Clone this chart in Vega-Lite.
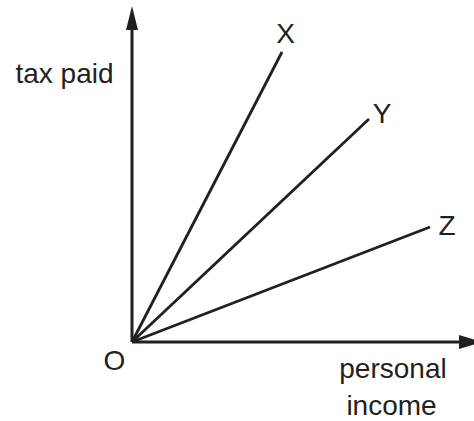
{
  "$schema": "https://vega.github.io/schema/vega-lite/v6.json",
  "width": 474,
  "height": 421,
  "autosize": {"type": "fit", "contains": "padding"},
  "padding": 0,
  "background": "white",
  "config": {"view": {"stroke": null}},
  "datasets": {
    "axes": [
      {"axis": "income", "x": 0, "y": 0, "x2": 32.7, "y2": 0},
      {"axis": "tax", "x": 0, "y": 0, "x2": 0, "y2": 31.4}
    ],
    "arrows": [
      {"dir": "up", "x": 0, "y": 33.6},
      {"dir": "right", "x": 35.1, "y": 0}
    ],
    "lines": [
      {"line": "X", "income0": 0, "tax0": 0, "income": 15.0, "tax": 29.0},
      {"line": "Y", "income0": 0, "tax0": 0, "income": 23.7, "tax": 22.3},
      {"line": "Z", "income0": 0, "tax0": 0, "income": 29.8, "tax": 11.5}
    ],
    "labels": [
      {"text": "X", "x": 15.35, "y": 29.9},
      {"text": "Y", "x": 25.0, "y": 21.9},
      {"text": "Z", "x": 31.5, "y": 10.7},
      {"text": "O", "x": -1.75, "y": -2.8},
      {"text": "tax paid", "x": -6.75, "y": 25.9},
      {"text": "personal", "x": 26.1, "y": -3.6},
      {"text": "income", "x": 25.95, "y": -7.3}
    ]
  },
  "layer": [
    {
      "data": {"name": "axes"},
      "mark": {"type": "rule", "color": "#231f20", "strokeWidth": 3, "clip": true},
      "encoding": {
        "x": {"field": "x", "type": "quantitative", "scale": {"domain": [-13.2, 34.2], "nice": false, "zero": false}, "axis": null},
        "y": {"field": "y", "type": "quantitative", "scale": {"domain": [-7.9, 34.2], "nice": false, "zero": false}, "axis": null},
        "x2": {"field": "x2"},
        "y2": {"field": "y2"}
      }
    },
    {
      "data": {"name": "arrows"},
      "mark": {"type": "point", "filled": true, "color": "#231f20", "size": 576, "opacity": 1, "clip": true},
      "encoding": {
        "x": {"field": "x", "type": "quantitative"},
        "y": {"field": "y", "type": "quantitative"},
        "shape": {"field": "dir", "type": "nominal", "scale": {"domain": ["up", "right"], "range": ["M0,0L0.5,2L-0.5,2Z", "M0,0L-2,-0.58L-2,0.58Z"]}, "legend": null}
      }
    },
    {
      "data": {"name": "lines"},
      "mark": {"type": "rule", "color": "#231f20", "strokeWidth": 2.8, "clip": true},
      "encoding": {
        "x": {"field": "income0", "type": "quantitative"},
        "y": {"field": "tax0", "type": "quantitative"},
        "x2": {"field": "income"},
        "y2": {"field": "tax"}
      }
    },
    {
      "data": {"name": "labels"},
      "mark": {"type": "text", "font": "Liberation Sans", "fontSize": 28, "color": "#231f20", "align": "center", "baseline": "alphabetic", "clip": true},
      "encoding": {
        "x": {"field": "x", "type": "quantitative"},
        "y": {"field": "y", "type": "quantitative"},
        "text": {"field": "text"}
      }
    }
  ]
}
